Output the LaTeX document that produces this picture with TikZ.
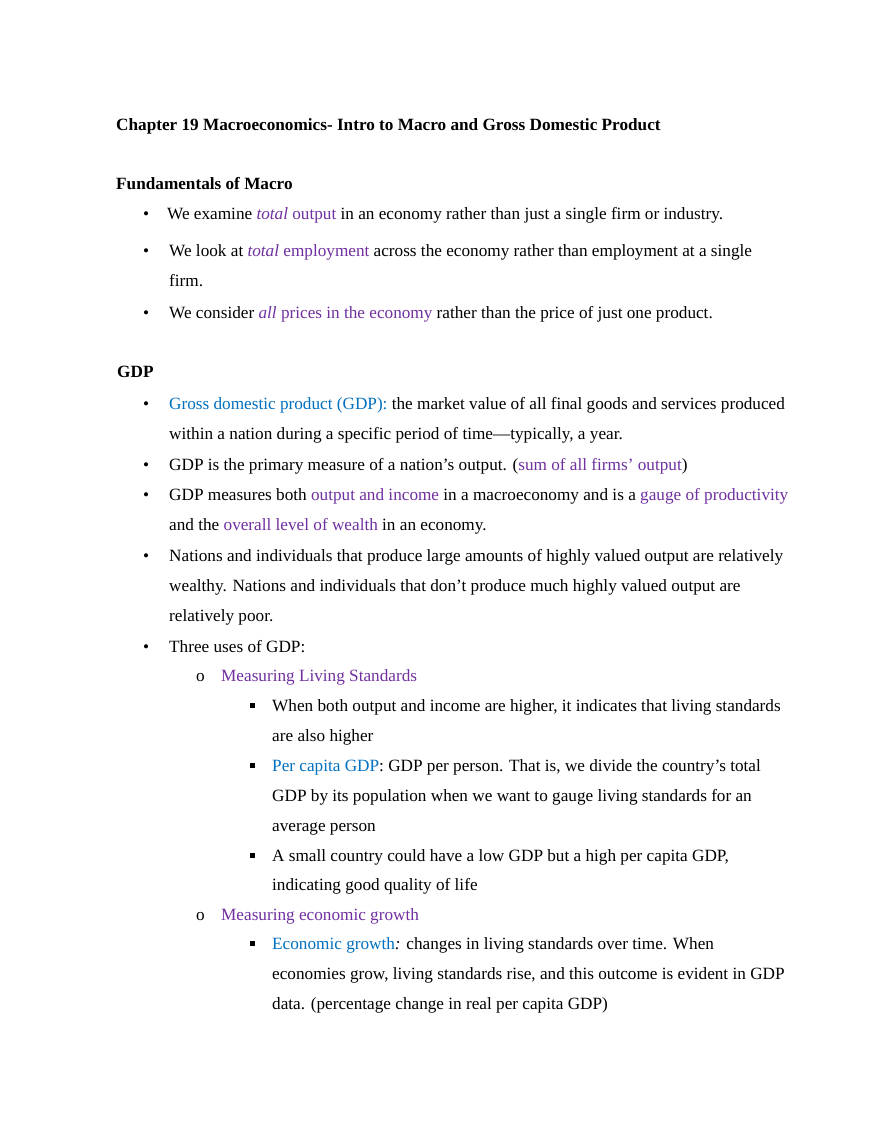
\documentclass[tikz,border=0pt]{standalone}
\usepackage{fontspec}
\setmainfont{Liberation Serif}
\definecolor{pur}{HTML}{7030A0}
\definecolor{blu}{HTML}{0070C0}
\newcommand{\pu}[1]{\textcolor{pur}{#1}}
\newcommand{\bl}[1]{\textcolor{blu}{#1}}
\begin{document}
\begin{tikzpicture}[x=1pt,y=-1pt,
  t/.style={anchor=base west,inner sep=0pt,font=\fontsize{17.2}{20}\selectfont},
  sq/.style={fill=black,minimum size=5pt,inner sep=0pt}]
\useasboundingbox (0,0) rectangle (880,1139);
\fill[white] (0,0) rectangle (880,1139);
\node[t,font=\fontsize{17.2}{20}\selectfont\bfseries] (h1) at (116,131) {Chapter 19 Macroeconomics- Intro to Macro and Gross Domestic Product};
\node[t,font=\fontsize{17.2}{20}\selectfont\bfseries] (h2) at (116,190) {Fundamentals of Macro};
\node[t] (b1) at (143,220) {\textbullet};
\node[t] (l1) at (167,220) {We examine \pu{\textit{total} output} in an economy rather than just a single firm or industry.};
\node[t] (b2) at (143,257) {\textbullet};
\node[t] (l2) at (169,257) {We look at \pu{\textit{total} employment} across the economy rather than employment at a single};
\node[t] (l2b) at (169,287) {firm.};
\node[t] (b3) at (143,318) {\textbullet};
\node[t] (l3) at (169,318) {We consider \pu{\textit{all} prices in the economy} rather than the price of just one product.};
\node[t,font=\fontsize{17.2}{20}\selectfont\bfseries] (h3) at (117,377) {GDP};
\node[t] (b4) at (143,409) {\textbullet};
\node[t] (l4) at (169,409) {\bl{Gross domestic product (GDP):} the market value of all final goods and services produced};
\node[t] (l4b) at (169,439) {within a nation during a specific period of time—typically, a year.};
\node[t] (b5) at (143,470) {\textbullet};
\node[t] (l5) at (169,470) {GDP is the primary measure of a nation’s output. (\pu{sum of all firms’ output})};
\node[t] (b6) at (143,500) {\textbullet};
\node[t] (l6) at (169,500) {GDP measures both \pu{output and income} in a macroeconomy and is a \pu{gauge of productivity}};
\node[t] (l6b) at (169,530) {and the \pu{overall level of wealth} in an economy.};
\node[t] (b7) at (143,561) {\textbullet};
\node[t] (l7) at (169,561) {Nations and individuals that produce large amounts of highly valued output are relatively};
\node[t] (l7b) at (169,591) {wealthy. Nations and individuals that don’t produce much highly valued output are};
\node[t] (l7c) at (169,621) {relatively poor.};
\node[t] (b8) at (143,652) {\textbullet};
\node[t] (l8) at (169,652) {Three uses of GDP:};
\node[t] (o1) at (196,681) {o};
\node[t] (m1) at (221,681) {\pu{Measuring Living Standards}};
\node[sq] (s1) at (252.5,705) {};
\node[t] (n1) at (272,711) {When both output and income are higher, it indicates that living standards};
\node[t] (n1b) at (272,741) {are also higher};
\node[sq] (s2) at (252.5,765) {};
\node[t] (n2) at (272,771) {\bl{Per capita GDP}: GDP per person. That is, we divide the country’s total};
\node[t] (n2b) at (272,801) {GDP by its population when we want to gauge living standards for an};
\node[t] (n2c) at (272,831) {average person};
\node[sq] (s3) at (252.5,855) {};
\node[t] (n3) at (272,861) {A small country could have a low GDP but a high per capita GDP,};
\node[t] (n3b) at (272,890) {indicating good quality of life};
\node[t] (o2) at (196,920) {o};
\node[t] (m2) at (221,920) {\pu{Measuring economic growth}};
\node[sq] (s4) at (252.5,943) {};
\node[t] (n4) at (272,949) {\bl{Economic growth}\textit{:} changes in living standards over time. When};
\node[t] (n4b) at (272,979) {economies grow, living standards rise, and this outcome is evident in GDP};
\node[t] (n4c) at (272,1009) {data. (percentage change in real per capita GDP)};
\end{tikzpicture}
\end{document}
